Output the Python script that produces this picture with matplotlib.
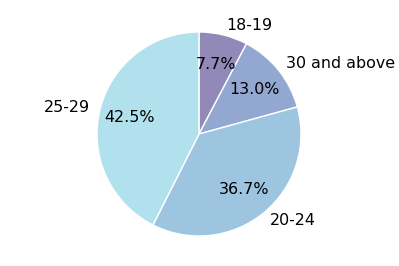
import matplotlib
matplotlib.use("Agg")
import matplotlib.pyplot as plt

labels = ["18-19", "30 and above", "20-24", "25-29"]
shares = [7.7, 13.0, 36.7, 42.5]
colors = ["#9189b7", "#93a8d1", "#9ec5e0", "#b2e1ee"]

fig = plt.figure(figsize=(3.99, 2.66), dpi=100)
ax = fig.add_axes([97 / 399, 30 / 266, 204 / 399, 204 / 266])

ax.pie(shares, labels=labels, colors=colors, autopct="%1.1f%%",
       startangle=90, counterclock=False, pctdistance=0.7,
       wedgeprops=dict(edgecolor="white", linewidth=1),
       textprops=dict(fontsize=11.4, color="black"))
ax.set_xlim(-1, 1)
ax.set_ylim(-1, 1)
ax.set_aspect("equal")

fig.savefig("out.png", dpi=100)
